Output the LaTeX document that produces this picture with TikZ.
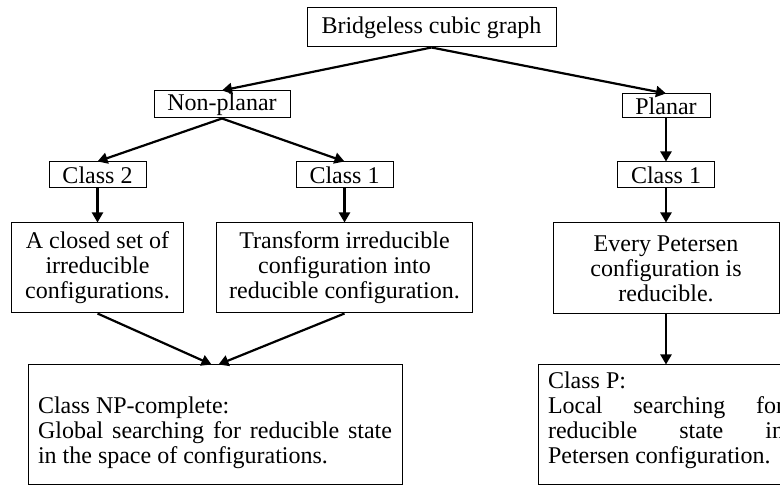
\documentclass[tikz,border=0pt]{standalone}
\usepackage{fontspec}
\setmainfont{Liberation Serif}
\usetikzlibrary{arrows.meta}

\begin{document}
\begin{tikzpicture}[x=0.5pt,y=-0.5pt,
    box/.style={rectangle, draw=black, line width=0.5pt, inner sep=1pt, font=\fontsize{12}{12.5}\selectfont},
    classbox/.style={box, minimum width=48.5pt, minimum height=13pt},
    bigbox/.style={box, align=center, minimum height=45pt},
    parbox/.style={box, align=justify, inner xsep=5pt, minimum height=59.5pt},
    arrow/.style={line width=1.1pt, -{Triangle[length=5pt,width=5.5pt]}}
    ]
    \useasboundingbox (0,0) rectangle (780,485);
    \clip (0,0) rectangle (780,485);

    \node [box, minimum width=124.5pt, minimum height=19.5pt] (cubic) at (431.5,27.5) {Bridgeless cubic graph};

    \node [box, minimum width=68pt, minimum height=13.5pt] (nonplanar) at (222,104.5) {Non-planar};
    \node [box, minimum width=44pt, minimum height=12pt] (planar) at (666,106) {Planar};

    \node [classbox] (c2) at (97.5,175) {Class 2};
    \node [classbox] (c1a) at (344.5,175) {Class 1};
    \node [classbox] (c1b) at (666,175) {Class 1};

    \node [bigbox, minimum width=86pt] (closed) at (97.5,268) {A closed set of\\ irreducible\\ configurations.};
    \node [bigbox, minimum width=128pt] (transform) at (344.5,268) {Transform irreducible\\ configuration into\\ reducible configuration.};
    \node [bigbox, minimum width=113pt, minimum height=45.5pt] (every) at (666,268.5) {Every Petersen\\ configuration is\\ reducible.};

    \node [parbox, text width=177pt] (np) at (215,424.5)
        {\rule{0pt}{17pt}Class NP-complete:\\ Global searching for reducible state in the space of configurations.};
    \node [parbox, text width=118pt] (classp) at (666,424.5)
        {Class P:\\ Local searching for\linebreak reducible state in\linebreak Petersen configuration.\rule[-7pt]{0pt}{0pt}};

    % first split
    \draw [arrow] (cubic.south) -- (nonplanar.north);
    \draw [arrow] (cubic.south) -- (planar.north);
    \draw [arrow] (nonplanar.south) -- (c2.north);
    \draw [arrow] (nonplanar.south) -- (c1a.north);
    \draw [arrow] (planar) -- (c1b);

    % down to the boxes
    \draw [arrow] (c2) -- (closed);
    \draw [arrow] (c1a) -- (transform);
    \draw [arrow] (c1b) -- (every);

    \draw [arrow] (closed.south) -- ([xshift=-1.75pt]np.north);
    \draw [arrow] (transform.south) -- ([xshift=1.75pt]np.north);
    \draw [arrow] (every) -- (classp);
\end{tikzpicture}
\end{document}
